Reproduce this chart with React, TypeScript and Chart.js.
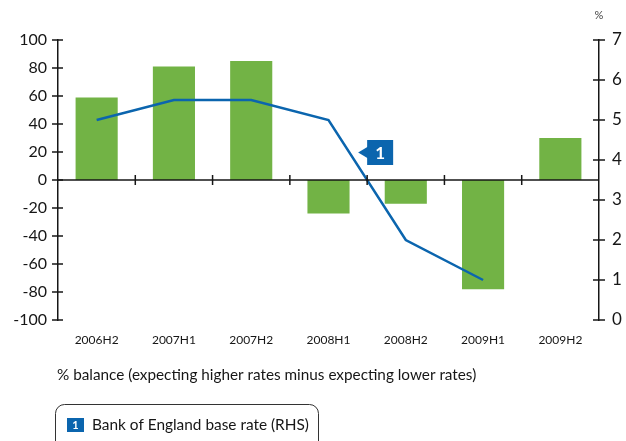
import React, { useEffect, useRef } from "react";
import { Chart, registerables } from "chart.js";

Chart.register(...registerables);

const categories = ["2006H2", "2007H1", "2007H2", "2008H1", "2008H2", "2009H1", "2009H2"];
const balanceValues = [59, 81, 85, -24, -17, -78, 30];
const baseRateValues: (number | null)[] = [5, 5.5, 5.5, 5, 2, 1, null];
const leftTicks = [-100, -80, -60, -40, -20, 0, 20, 40, 60, 80, 100];
const rightTicks = [0, 1, 2, 3, 4, 5, 6, 7];
const captionText = "% balance (expecting higher rates minus expecting lower rates)";
const legendText = "Bank of England base rate (RHS)";
const unitText = "%";

const GREEN = "#72b345";
const BLUE = "#0b65ae";
const INK = "#161616";
const FONT = "Lato, 'Open Sans', sans-serif";

export default function App() {
  const ref = useRef<HTMLCanvasElement | null>(null);

  useEffect(() => {
    document.body.style.margin = "0";
    const canvas = ref.current;
    if (!canvas) return;

    const overlay = {
      id: "overlay",
      afterDatasetsDraw(chart: any) {
        const ctx = chart.ctx;
        const x = chart.scales.x;
        const y = chart.scales.y;
        const y2 = chart.scales.y2;
        const area = chart.chartArea;
        ctx.save();
        ctx.strokeStyle = INK;
        ctx.lineWidth = 1.5;
        // zero line
        const zy = y.getPixelForValue(0);
        ctx.beginPath();
        ctx.moveTo(area.left, zy);
        ctx.lineTo(area.right, zy);
        ctx.stroke();
        for (let i = 0; i < categories.length - 1; i++) {
          const px = x.getPixelForValue(i + 0.5);
          ctx.beginPath();
          ctx.moveTo(px, zy - 5);
          ctx.lineTo(px, zy + 5);
          ctx.stroke();
        }
        // left ticks
        leftTicks.forEach((v) => {
          const py = y.getPixelForValue(v);
          ctx.beginPath();
          ctx.moveTo(area.left - 6, py);
          ctx.lineTo(area.left + 5, py);
          ctx.stroke();
        });
        rightTicks.forEach((v) => {
          const py = y2.getPixelForValue(v);
          ctx.beginPath();
          ctx.moveTo(area.right - 6, py);
          ctx.lineTo(area.right + 6, py);
          ctx.stroke();
        });

        // annotation "1"
        const bx = x.getPixelForValue(3.5);
        const by = y2.getPixelForValue(4.5);
        const bh = y2.getPixelForValue(3.875) - by;
        const bw = 26;
        ctx.fillStyle = BLUE;
        ctx.fillRect(bx, by, bw, bh);
        ctx.beginPath();
        ctx.moveTo(bx - 9, by + bh / 2);
        ctx.lineTo(bx + 1, by + bh / 2 - 6);
        ctx.lineTo(bx + 1, by + bh / 2 + 6);
        ctx.closePath();
        ctx.fill();
        ctx.fillStyle = "#ffffff";
        ctx.font = "bold 17px " + FONT;
        ctx.textAlign = "center";
        ctx.textBaseline = "middle";
        ctx.fillText("1", bx + bw / 2, by + bh / 2 + 1);

        // unit label
        ctx.fillStyle = "#444";
        ctx.font = "11px " + FONT;
        ctx.fillText(unitText, area.right, 15);

        // caption
        ctx.fillStyle = INK;
        ctx.font = "15.3px " + FONT;
        ctx.textAlign = "left";
        ctx.fillText(captionText, 57, 375);

        // legend box
        ctx.strokeStyle = "#333";
        ctx.lineWidth = 1;
        ctx.beginPath();
        (ctx as any).roundRect(55.5, 404.5, 263, 50, 9);
        ctx.stroke();
        ctx.fillStyle = BLUE;
        ctx.fillRect(67, 418, 17, 14);
        ctx.fillStyle = "#ffffff";
        ctx.font = "bold 11px " + FONT;
        ctx.textAlign = "center";
        ctx.fillText("1", 75.5, 425.5);
        ctx.fillStyle = INK;
        ctx.font = "15.4px " + FONT;
        ctx.textAlign = "left";
        ctx.fillText(legendText, 92, 425);
        ctx.restore();
      },
    };

    const chart = new Chart(canvas, {
      type: "bar",
      data: {
        labels: categories,
        datasets: [
          {
            type: "line",
            label: legendText,
            data: baseRateValues,
            yAxisID: "y2",
            borderColor: BLUE,
            borderWidth: 2.5,
            pointRadius: 0,
            fill: false,
            tension: 0,
            order: 0,
          } as any,
          {
            type: "bar",
            label: "balance",
            data: balanceValues,
            yAxisID: "y",
            backgroundColor: GREEN,
            borderWidth: 0,
            categoryPercentage: 1,
            barPercentage: 0.545,
            order: 1,
          },
        ],
      },
      options: {
        responsive: false,
        animation: false,
        layout: { padding: { top: 40, left: 0, right: 0, bottom: 0 } },
        plugins: { legend: { display: false }, tooltip: { enabled: false } },
        scales: {
          x: {
            type: "category",
            offset: true,
            grid: { display: false, drawTicks: false },
            border: { display: false },
            ticks: { color: INK, font: { family: FONT, size: 12 }, padding: 13, maxRotation: 0 },
            afterFit(scale: any) {
              scale.height = 121;
            },
          },
          y: {
            position: "left",
            min: -100,
            max: 100,
            afterBuildTicks(scale: any) {
              scale.ticks = leftTicks.map((v) => ({ value: v }));
            },
            grid: { display: false, drawTicks: false },
            border: { display: true, color: INK, width: 1.5 },
            ticks: { color: INK, font: { family: FONT, size: 16 }, padding: 11 },
            afterFit(scale: any) {
              scale.width = 58;
            },
          },
          y2: {
            position: "right",
            min: 0,
            max: 7,
            afterBuildTicks(scale: any) {
              scale.ticks = rightTicks.map((v) => ({ value: v }));
            },
            grid: { display: false, drawTicks: false },
            border: { display: true, color: INK, width: 1.5 },
            ticks: { color: INK, font: { family: FONT, size: 17 }, padding: 13 },
            afterFit(scale: any) {
              scale.width = 27;
            },
          },
        },
      },
      plugins: [overlay],
    });
    return () => chart.destroy();
  }, []);

  return (
    <div style={{ width: 626, height: 441, background: "#fff" }}>
      <canvas ref={ref} width={626} height={441} />
    </div>
  );
}
